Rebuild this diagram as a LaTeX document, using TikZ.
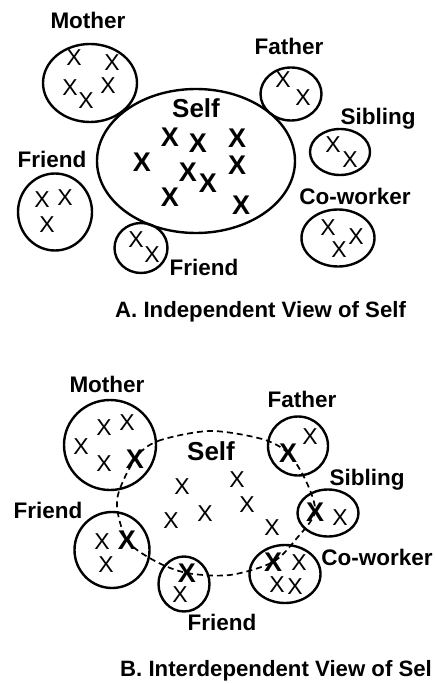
\documentclass[tikz,border=0pt]{standalone}
\usepackage{fontspec}
\setmainfont{Liberation Sans}
\usetikzlibrary{shapes.geometric}

\begin{document}
\begin{tikzpicture}[x=1pt, y=-1pt,
  grp/.style={draw, ellipse, line width=2.4pt, inner sep=0pt},
  lbl/.style={anchor=base, inner sep=0pt, font=\fontsize{22.5}{25}\selectfont\bfseries},
  selflbl/.style={lbl, font=\fontsize{26}{29}\selectfont\bfseries},
  captxt/.style={anchor=base west, inner sep=0pt, font=\fontsize{22.2}{26}\selectfont\bfseries},
  xm/.style={inner sep=0pt, font=\fontsize{23}{26}\selectfont},
  xb/.style={inner sep=0pt, font=\fontsize{27}{30}\selectfont\bfseries}]
  \useasboundingbox (0,0) rectangle (434,684);

  % A. Independent view: groups
  \node[grp, minimum width=198pt, minimum height=144pt] (selfA) at (196,161) {};
  \node[grp, minimum width=94pt, minimum height=78pt] (motherA) at (90,83) {};
  \node[grp, minimum width=61pt, minimum height=53pt] (fatherA) at (291,94) {};
  \node[grp, minimum width=60pt, minimum height=46pt] (siblingA) at (340,152) {};
  \node[grp, minimum width=73pt, minimum height=57pt] (coworkerA) at (338,238) {};
  \node[grp, minimum width=74pt, minimum height=77pt] (friendlA) at (55,212) {};
  \node[grp, minimum width=53pt, minimum height=50pt] (friendbA) at (141,248) {};

  % A. labels
  \node[selflbl] (selfAlbl) at (196,118) {Self};
  \node[lbl] (motherAlbl) at (88,29) {Mother};
  \node[lbl] (fatherAlbl) at (289,55) {Father};
  \node[lbl] (siblingAlbl) at (378,125) {Sibling};
  \node[lbl] (coworkerAlbl) at (355,205) {Co-worker};
  \node[lbl] (friendlAlbl) at (52,168) {Friend};
  \node[lbl] (friendbAlbl) at (204,275) {Friend};
  \node[captxt] (capA) at (115,317) {A. Independent View of Self};

  % A. crosses
  \foreach \x/\y [count=\i] in {170/137,198/143,237/138,142/162,188/172,
      208/183,237/165,170/197,241/205}
    \node[xb] (sa\i) at (\x,\y) {X};
  \foreach \x/\y [count=\i] in {74/58,112/63,70/88,86/101,108/86,283/80,303/98,
      333/145,350/160,328/228,356/237,339/250,42/200,65/198,47/225,136/240,152/255}
    \node[xm] (oa\i) at (\x,\y) {X};

  % B. Interdependent view: groups
  \node[grp, minimum width=92pt, minimum height=90pt] (motherB) at (110,445) {};
  \node[grp, minimum width=60pt, minimum height=59pt] (fatherB) at (298,446) {};
  \node[grp, minimum width=61pt, minimum height=47pt] (siblingB) at (328,513) {};
  \node[grp, minimum width=71pt, minimum height=58pt] (coworkerB) at (285,574) {};
  \node[grp, minimum width=75pt, minimum height=76pt] (friendlB) at (112,550) {};
  \node[grp, minimum width=51pt, minimum height=55pt] (friendbB) at (184,584) {};

  % B. labels
  \node[selflbl] (selfBlbl) at (211,460) {Self};
  \node[lbl] (motherBlbl) at (107,392) {Mother};
  \node[lbl] (fatherBlbl) at (302,407) {Father};
  \node[lbl] (siblingBlbl) at (367,485) {Sibling};
  \node[lbl] (coworkerBlbl) at (377,565) {Co-worker};
  \node[lbl] (friendlBlbl) at (48,518) {Friend};
  \node[lbl] (friendbBlbl) at (222,630) {Friend};
  \node[captxt] (capB) at (120,676) {B. Interdependent View of Sel};

  % B. crosses (bold ones lie on the self boundary)
  \node[xb] (mB) at (135,459) {X};
  \node[xb] (fB) at (288,453) {X};
  \node[xb] (sB) at (315,512) {X};
  \node[xb] (cB) at (273,562) {X};
  \node[xb] (fbB) at (187,573) {X};
  \node[xb] (flB) at (127,540) {X};
  \foreach \x/\y [count=\i] in {81/447,104/428,127/423,104/464,310/437,340/518,
      299/563,277/585,295/587,102/542,106/565,180/595,
      182/487,237/480,247/505,171/521,205/514,272/528}
    \node[xm] (ob\i) at (\x,\y) {X};

  % Self boundary through the shared crosses
  \coordinate (t1) at (158,441);
  \coordinate (t2) at (210,431);
  \coordinate (t3) at (262,439);
  \coordinate (r1) at (306,481);
  \coordinate (r2) at (297,538);
  \coordinate (b1) at (230,575);
  \coordinate (b2) at (155,561);
  \coordinate (l1) at (117,500);
  \draw[line width=1.7pt, dash pattern=on 6pt off 4pt]
    plot[smooth cycle, tension=0.5] coordinates {(mB.center) (t1) (t2) (t3)
      (fB.center) (r1) (sB.center) (r2) (cB.center) (b1) (fbB.center) (b2)
      (flB.center) (l1)};
\end{tikzpicture}
\end{document}
